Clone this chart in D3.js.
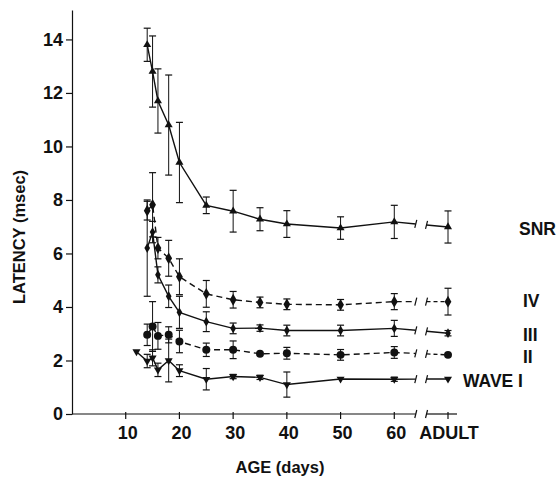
<!DOCTYPE html>
<html>
<head>
<meta charset="utf-8">
<script src="https://cdn.jsdelivr.net/npm/d3@7"></script>
<style>
  html, body { margin: 0; padding: 0; background: #fff; }
  svg { display: block; }
  text { font-family: "Liberation Sans", Arial, sans-serif; font-weight: bold; fill: #111; }
  .axis path, .axis line { stroke: #111; stroke-width: 1.2; }
</style>
</head>
<body>
<svg id="chart" width="559" height="485"></svg>
<script>
(function() {
  const INK = "#111";

  // ages in days; ADULT is placed at 70 on the age scale
  const ADULT = 70;
  const ages = [14, 15, 16, 18, 20, 25, 30, 35, 40, 50, 60, ADULT];
  const waveIAges = [12, 14, 15, 16, 18, 20, 25, 30, 35, 40, 50, 60, ADULT];
  const xTicks = [10, 20, 30, 40, 50, 60, ADULT];
  const xTickLabels = ["10", "20", "30", "40", "50", "60", "ADULT"];
  const yTicks = [0, 2, 4, 6, 8, 10, 12, 14];

  const snrMean = [13.8, 12.8, 11.7, 10.8, 9.4, 7.8, 7.58, 7.28, 7.1, 6.95, 7.18, 6.99];
  const snrSd   = [0.62, 1.33, 1.2, 1.87, 1.5, 0.31, 0.78, 0.43, 0.5, 0.42, 0.62, 0.6];
  const ivMean  = [7.6, 7.82, 6.2, 5.82, 5.13, 4.49, 4.27, 4.17, 4.1, 4.08, 4.2, 4.2];
  const ivSd    = [0.35, 1.2, 0.4, 0.67, 0.67, 0.5, 0.31, 0.2, 0.2, 0.2, 0.3, 0.5];
  const iiiMean = [6.2, 6.8, 5.2, 4.4, 3.8, 3.45, 3.2, 3.21, 3.12, 3.12, 3.2, 3.02];
  const iiiSd   = [1.8, 0.4, 0.3, 0.42, 0.6, 0.37, 0.2, 0.12, 0.2, 0.2, 0.3, 0.1];
  const iiMean  = [2.96, 3.27, 2.92, 2.96, 2.71, 2.4, 2.4, 2.25, 2.27, 2.21, 2.3, 2.21];
  const iiSd    = [0.4, 0.93, 0.5, 0.3, 0.42, 0.25, 0.33, 0.05, 0.22, 0.2, 0.22, 0.05];
  const iMean   = [2.33, 1.98, 2.1, 1.65, 2.0, 1.62, 1.3, 1.4, 1.37, 1.1, 1.31, 1.3, 1.31];
  const iSd     = [0, 0.25, 0.3, 0.25, 0.8, 0.22, 0.4, 0.08, 0.08, 0.47, 0.05, 0.08, 0.05];

  const seriesNames = ["SNR", "IV", "III", "II", "WAVE I"];

  const series = [
    { name: "SNR", ages: ages, mean: snrMean, sd: snrSd, dash: null, symbol: d3.symbolTriangle, size: 28, rot: 0 },
    { name: "IV", ages: ages, mean: ivMean, sd: ivSd, dash: "6,4", symbol: d3.symbolDiamond, size: 40, rot: 0 },
    { name: "III", ages: ages, mean: iiiMean, sd: iiiSd, dash: null, symbol: d3.symbolDiamond, size: 28, rot: 0 },
    { name: "II", ages: ages, mean: iiMean, sd: iiSd, dash: "6,4", symbol: d3.symbolCircle, size: 50, rot: 0 },
    { name: "WAVE I", ages: waveIAges, mean: iMean, sd: iSd, dash: null, symbol: d3.symbolTriangle, size: 28, rot: 180 }
  ];

  const labelPos = {
    "SNR": [519, 235], "IV": [523, 307], "III": [523, 341], "II": [523, 363], "WAVE I": [463, 387]
  };

  const BREAK_LO = 64, BREAK_HI = 66;

  const svg = d3.select("#chart");

  const x = d3.scaleLinear().domain([0, ADULT]).range([72, 448]);
  const y = d3.scaleLinear().domain([0, 15.1]).range([414, 10]);

  // y axis
  svg.append("g")
    .attr("class", "axis")
    .attr("transform", `translate(${x(0)},0)`)
    .call(d3.axisLeft(y).tickValues(yTicks).tickSize(6).tickSizeOuter(0).tickPadding(3))
    .call(g => g.selectAll("text").attr("font-size", 18).attr("fill", INK));

  // x axis, broken between 60 and ADULT
  const xa = svg.append("g").attr("class", "axis").attr("transform", `translate(0,${y(0)})`);
  xa.append("line").attr("x1", x(0)).attr("x2", x(BREAK_LO)).attr("y1", 0).attr("y2", 0);
  xa.append("line").attr("x1", x(BREAK_HI)).attr("x2", x(ADULT) + 9).attr("y1", 0).attr("y2", 0);
  [BREAK_LO, BREAK_HI].forEach(v => {
    xa.append("line").attr("x1", x(v) - 1).attr("x2", x(v) + 1).attr("y1", 4).attr("y2", -4);
  });
  xa.selectAll(".xt").data(xTicks).join("line")
    .attr("class", "xt")
    .attr("x1", d => x(d)).attr("x2", d => x(d))
    .attr("y1", -2).attr("y2", 5);
  xa.selectAll(".xl").data(xTicks).join("text")
    .attr("class", "xl")
    .attr("x", (d, i) => x(d) + (i === xTicks.length - 1 ? 1 : 2))
    .attr("y", 25)
    .attr("text-anchor", "middle")
    .attr("font-size", 18)
    .text((d, i) => xTickLabels[i]);

  // axis titles
  svg.append("text")
    .attr("x", 280).attr("y", 473)
    .attr("text-anchor", "middle")
    .attr("font-size", 16.5)
    .text("AGE (days)");
  svg.append("text")
    .attr("transform", `translate(25,237) rotate(-90)`)
    .attr("text-anchor", "middle")
    .attr("font-size", 16.5)
    .text("LATENCY (msec)");

  const line = d3.line().x(d => x(d.age)).y(d => y(d.v));

  series.forEach(s => {
    const pts = s.ages.map((a, i) => ({ age: a, v: s.mean[i], sd: s.sd[i] }));
    const pre = pts.filter(p => p.age <= 60);
    const p60 = pts.find(p => p.age === 60);
    const pA = pts.find(p => p.age === ADULT);
    const at = a => p60.v + (pA.v - p60.v) * (a - 60) / (ADULT - 60);
    const g = svg.append("g");

    g.append("path")
      .attr("d", line(pre.concat([{ age: BREAK_LO, v: at(BREAK_LO) }])))
      .attr("fill", "none").attr("stroke", INK).attr("stroke-width", 1.4)
      .attr("stroke-dasharray", s.dash);
    g.append("path")
      .attr("d", line([{ age: BREAK_HI, v: at(BREAK_HI) }, pA]))
      .attr("fill", "none").attr("stroke", INK).attr("stroke-width", 1.4)
      .attr("stroke-dasharray", s.dash ? "4,3" : null);
    // break ticks
    [BREAK_LO, BREAK_HI].forEach(a => {
      g.append("line")
        .attr("x1", x(a) - 1).attr("x2", x(a) + 1)
        .attr("y1", y(at(a)) + 4).attr("y2", y(at(a)) - 4)
        .attr("stroke", INK).attr("stroke-width", 1.2);
    });

    // error bars
    const eb = g.selectAll(".eb").data(pts.filter(p => p.sd > 0.06)).join("g").attr("class", "eb");
    eb.append("line")
      .attr("x1", d => x(d.age)).attr("x2", d => x(d.age))
      .attr("y1", d => y(d.v - d.sd)).attr("y2", d => y(d.v + d.sd))
      .attr("stroke", INK).attr("stroke-width", 1);
    [-1, 1].forEach(sign => {
      eb.append("line")
        .attr("x1", d => x(d.age) - 3.5).attr("x2", d => x(d.age) + 3.5)
        .attr("y1", d => y(d.v + sign * d.sd)).attr("y2", d => y(d.v + sign * d.sd))
        .attr("stroke", INK).attr("stroke-width", 1.2);
    });

    // markers
    g.selectAll(".pt").data(pts).join("path")
      .attr("class", "pt")
      .attr("d", d3.symbol().type(s.symbol).size(s.size))
      .attr("transform", d => `translate(${x(d.age)},${y(d.v)}) rotate(${s.rot})`)
      .attr("fill", INK);
  });

  // series labels
  svg.selectAll(".slabel").data(seriesNames).join("text")
    .attr("class", "slabel")
    .attr("x", d => labelPos[d][0]).attr("y", d => labelPos[d][1])
    .attr("font-size", 17.5)
    .text(d => d);
})();
</script>
</body>
</html>
